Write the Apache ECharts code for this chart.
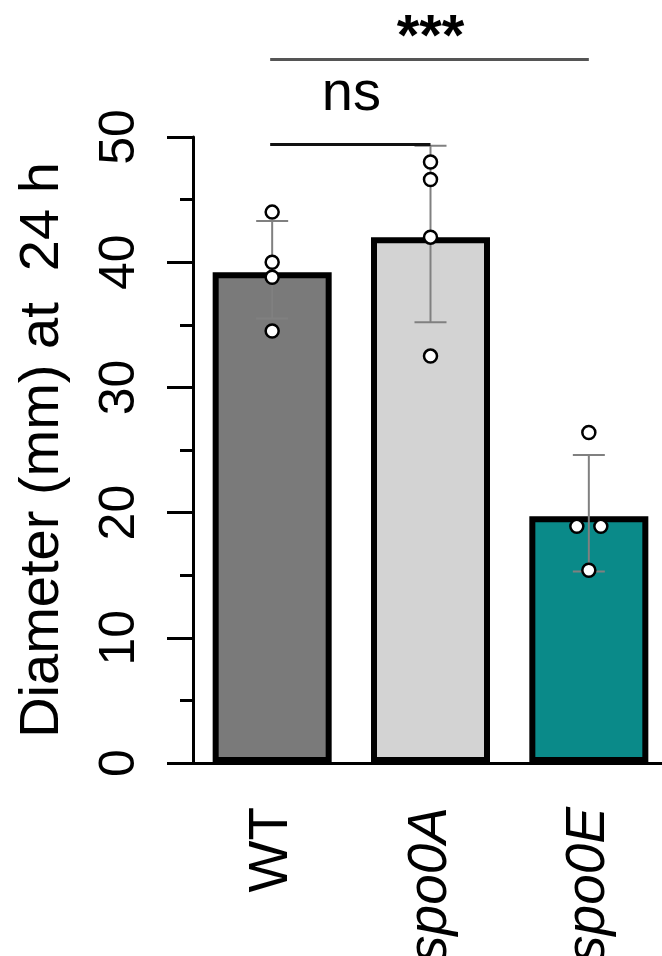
<!DOCTYPE html>
<html lang="en">
<head>
  <meta charset="UTF-8">
  <title>Diameter at 24 h</title>
  <style>
    * { margin: 0; padding: 0; }
    /* chart container fills the window */
    #main { width: 662px; height: 956px; background: #fff; }
  </style>
</head>
<body>
  <div id="main"></div>
  <script src="https://cdn.jsdelivr.net/npm/echarts@6/dist/echarts.min.js"></script>
  <script>
    // data
    var categories = ['WT', 'spo0A', 'spo0E'];
    var means = [39.2, 42.0, 19.7];
    var errHigh = [43.3, 49.3, 24.6];   // mean + SD
    var errLow = [35.5, 35.2, 15.3];    // mean - SD
    var wtPoints = [44.0, 40.0, 38.8, 34.5];
    var spo0aPoints = [48.0, 46.6, 42.0, 32.5];
    var spo0ePoints = [26.4, 18.9, 18.9, 15.4];
    var yTicks = [0, 10, 20, 30, 40, 50];
    // significance brackets: [from, to, height, label]
    var sigPairs = [
      [0, 1, 49.4, 'ns'],
      [0, 2, 56.2, '***']
    ];

    var barColors = ['#7a7a7a', '#d3d3d3', '#0a8a89'];
    var spo0eJitter = [0, -12, 12, 0]; // horizontal spread of the overlapping dots (px)

    var myCharts = echarts.init(document.getElementById('main'));

    var pointData = [];
    [wtPoints, spo0aPoints, spo0ePoints].forEach(function (pts, i) {
      pts.forEach(function (v, j) {
        var item = { value: [i, v] };
        if (i === 2) item.symbolOffset = [spo0eJitter[j], 0];
        pointData.push(item);
      });
    });

    var option = {
      animation: false,
      backgroundColor: '#fff',
      textStyle: { fontFamily: 'Liberation Sans, Arial, sans-serif', color: '#000' },
      grid: { left: 193, top: 137, bottom: 193, right: -6, containLabel: false, outerBoundsMode: 'none' },
      xAxis: {
        type: 'category',
        data: categories,
        axisLine: { lineStyle: { color: '#000', width: 3 } },
        axisTick: { alignWithLabel: true, length: 28, lineStyle: { color: '#000', width: 3 } },
        axisLabel: {
          rotate: 90,
          margin: 44,
          fontSize: 55,
          color: '#000',
          formatter: function (v) { return v === 'WT' ? v : '{i|' + v + '}'; },
          rich: { i: { fontStyle: 'italic', fontSize: 55, color: '#000' } }
        }
      },
      yAxis: {
        type: 'value',
        min: yTicks[0],
        max: yTicks[yTicks.length - 1],
        interval: 10,
        name: 'Diameter (mm) at  24 h',
        nameLocation: 'middle',
        nameRotate: 90,
        nameGap: 122,
        nameTextStyle: { fontSize: 56, color: '#000' },
        axisLine: { show: true, lineStyle: { color: '#000', width: 3 } },
        axisTick: { show: true, length: 26, lineStyle: { color: '#000', width: 3 } },
        minorTick: { show: true, splitNumber: 2, length: 13, lineStyle: { color: '#000', width: 3 } },
        splitLine: { show: false },
        axisLabel: { rotate: 90, fontSize: 50, margin: 48, color: '#000' }
      },
      series: [
        {
          type: 'bar',
          barWidth: 119,
          data: means.map(function (v, i) {
            return { value: v, itemStyle: { color: barColors[i] } };
          }),
          itemStyle: { borderColor: '#000', borderWidth: 6 },
          z: 2
        },
        { // error bars
          type: 'custom',
          data: categories.map(function (c, i) { return [i, errHigh[i], errLow[i]]; }),
          renderItem: function (params, api) {
            var hi = api.coord([api.value(0), api.value(1)]);
            var lo = api.coord([api.value(0), api.value(2)]);
            var hw = 16;
            var st = { stroke: '#808080', lineWidth: 2 };
            return {
              type: 'group',
              children: [
                { type: 'line', shape: { x1: hi[0], y1: hi[1], x2: lo[0], y2: lo[1] }, style: st },
                { type: 'line', shape: { x1: hi[0] - hw, y1: hi[1], x2: hi[0] + hw, y2: hi[1] }, style: st },
                { type: 'line', shape: { x1: lo[0] - hw, y1: lo[1], x2: lo[0] + hw, y2: lo[1] }, style: st }
              ]
            };
          },
          z: 3
        },
        { // individual replicates
          type: 'scatter',
          data: pointData,
          symbol: 'circle',
          symbolSize: 13,
          itemStyle: { color: '#fff', borderColor: '#000', borderWidth: 2.5, opacity: 1 },
          z: 4
        },
        { // significance brackets
          type: 'custom',
          clip: false,
          data: sigPairs,
          renderItem: function (params, api) {
            var s = sigPairs[params.dataIndex];
            var a = api.coord([s[0], s[2]]);
            var b = api.coord([s[1], s[2]]);
            var isNs = s[3] === 'ns';
            return {
              type: 'group',
              children: [
                { type: 'line', shape: { x1: a[0] - 2, y1: a[1], x2: b[0], y2: b[1] },
                  style: { stroke: isNs ? '#111' : '#555', lineWidth: 3 } },
                { type: 'text',
                  style: {
                    x: (a[0] + b[0]) / 2,
                    y: a[1] + (isNs ? -50 : -20),
                    text: s[3],
                    fill: '#000',
                    font: (isNs ? 'normal 56px' : 'bold 58px') + ' Liberation Sans, Arial, sans-serif',
                    textAlign: 'center',
                    textVerticalAlign: 'middle'
                  } }
              ]
            };
          },
          z: 5
        }
      ]
    };

    myCharts.setOption(option);
  </script>
</body>
</html>
